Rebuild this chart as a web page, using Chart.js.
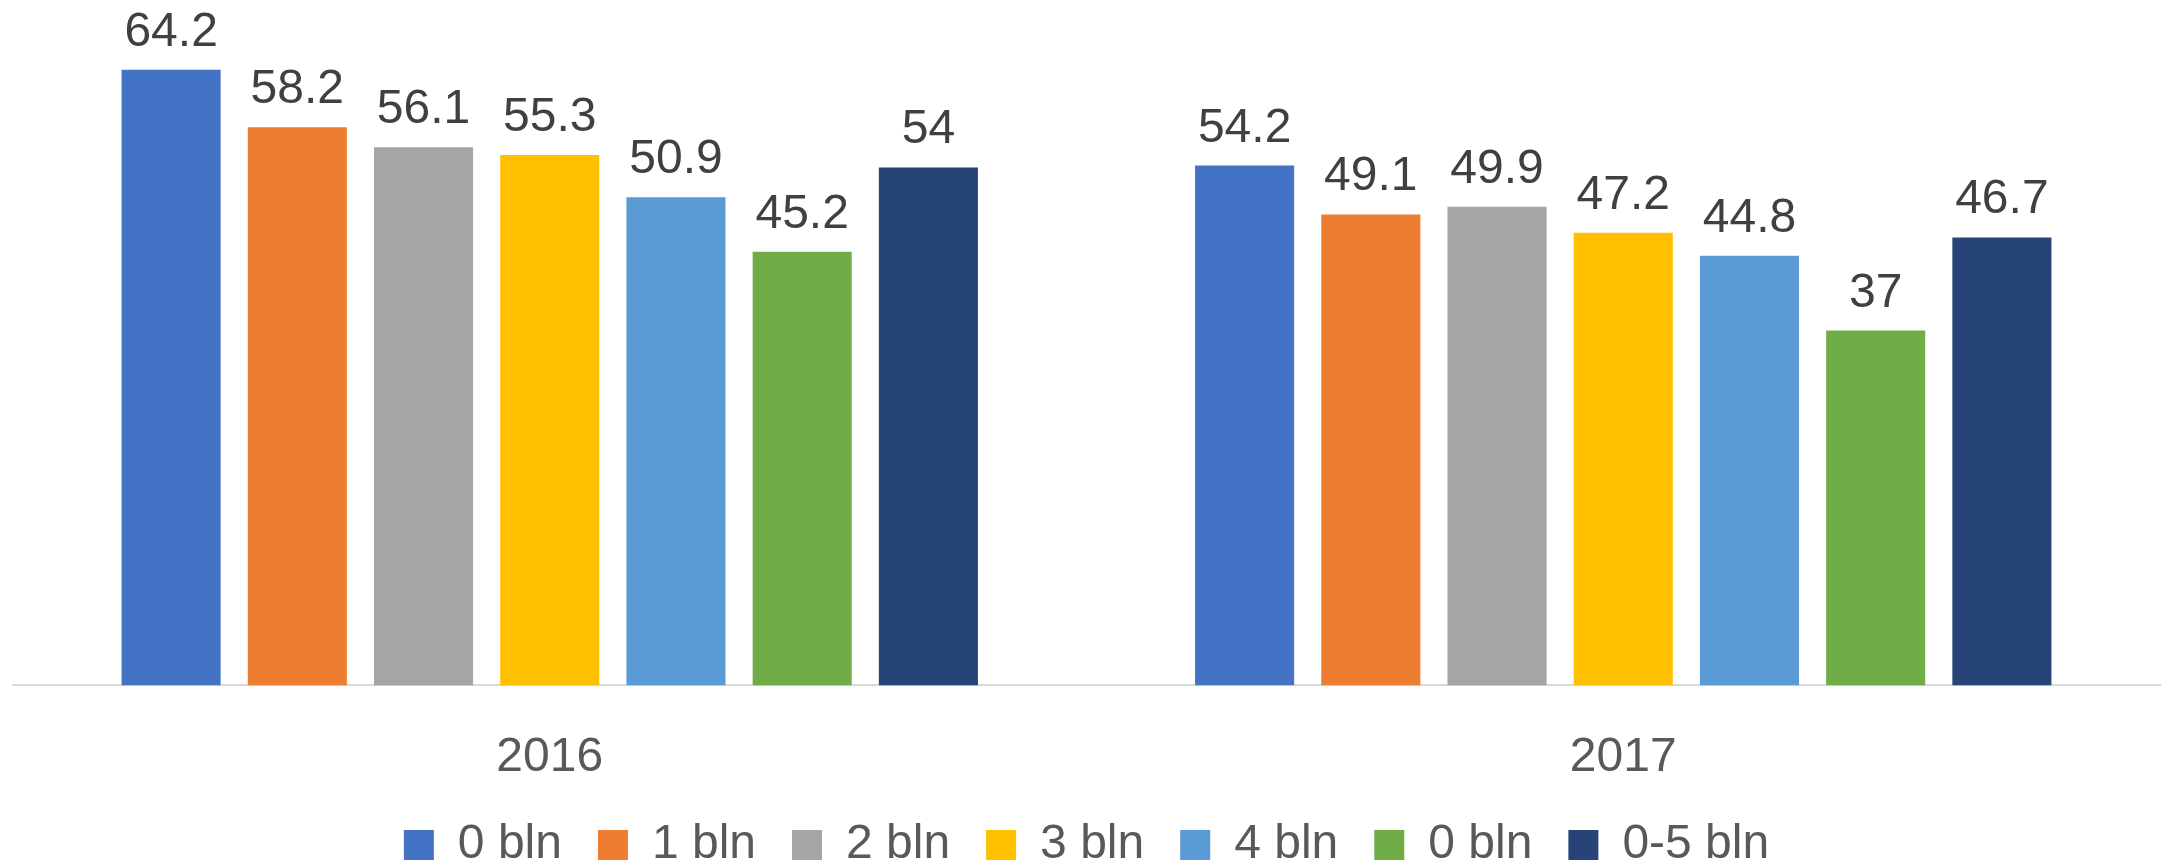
<!DOCTYPE html>
<html>
<head>
<meta charset="utf-8">
<script src="https://cdn.jsdelivr.net/npm/chart.js@4"></script>
<style>
  html, body { margin: 0; padding: 0; background: #ffffff; }
  #wrap { width: 2163px; height: 864px; position: relative; }
</style>
</head>
<body>
<div id="wrap"><canvas id="c"></canvas></div>
<script>
const categories = ["2016", "2017"];
const seriesNames = ["0 bln", "1 bln", "2 bln", "3 bln", "4 bln", "0 bln", "0-5 bln"];
const s0 = [64.2, 54.2];
const s1 = [58.2, 49.1];
const s2 = [56.1, 49.9];
const s3 = [55.3, 47.2];
const s4 = [50.9, 44.8];
const s5 = [45.2, 37];
const s6 = [54, 46.7];
const seriesValues = [s0, s1, s2, s3, s4, s5, s6];
const seriesColors = ["#4472C4", "#ED7D31", "#A5A5A5", "#FFC000", "#5B9BD5", "#70AD47", "#264478"];

const FONT = "'Liberation Sans', Arial, sans-serif";

const valueLabels = {
  id: 'valueLabels',
  afterDatasetsDraw(chart) {
    const ctx = chart.ctx;
    ctx.save();
    ctx.font = "48px " + FONT;
    ctx.fillStyle = "#404040";
    ctx.textAlign = "center";
    ctx.textBaseline = "alphabetic";
    chart.data.datasets.forEach((ds, i) => {
      const meta = chart.getDatasetMeta(i);
      meta.data.forEach((bar, j) => {
        ctx.fillText(String(ds.data[j]), bar.x, bar.y - 24);
      });
    });
    ctx.restore();
  }
};

new Chart(document.getElementById('c'), {
  type: 'bar',
  data: {
    labels: categories,
    datasets: seriesNames.map((name, i) => ({
      label: name,
      data: seriesValues[i],
      backgroundColor: seriesColors[i],
      borderWidth: 0,
      categoryPercentage: 0.823,
      barPercentage: 0.785
    }))
  },
  options: {
    responsive: true,
    maintainAspectRatio: false,
    animation: false,
    devicePixelRatio: 1,
    layout: { padding: { top: 14, left: 13, right: 3, bottom: -15 } },
    plugins: {
      legend: {
        position: 'bottom',
        labels: {
          font: { size: 48, family: FONT },
          color: "#595959",
          boxWidth: 30,
          boxHeight: 30,
          padding: 36
        }
      },
      tooltip: { enabled: false }
    },
    scales: {
      x: {
        grid: { display: false, drawTicks: false },
        border: { display: true, color: "#D9D9D9", width: 2 },
        ticks: { font: { size: 48, family: FONT }, color: "#595959", padding: 44 },
        afterFit(scale) { scale.height -= 46; }
      },
      y: {
        display: false,
        min: 0,
        max: 70
      }
    }
  },
  plugins: [valueLabels]
});
</script>
</body>
</html>
